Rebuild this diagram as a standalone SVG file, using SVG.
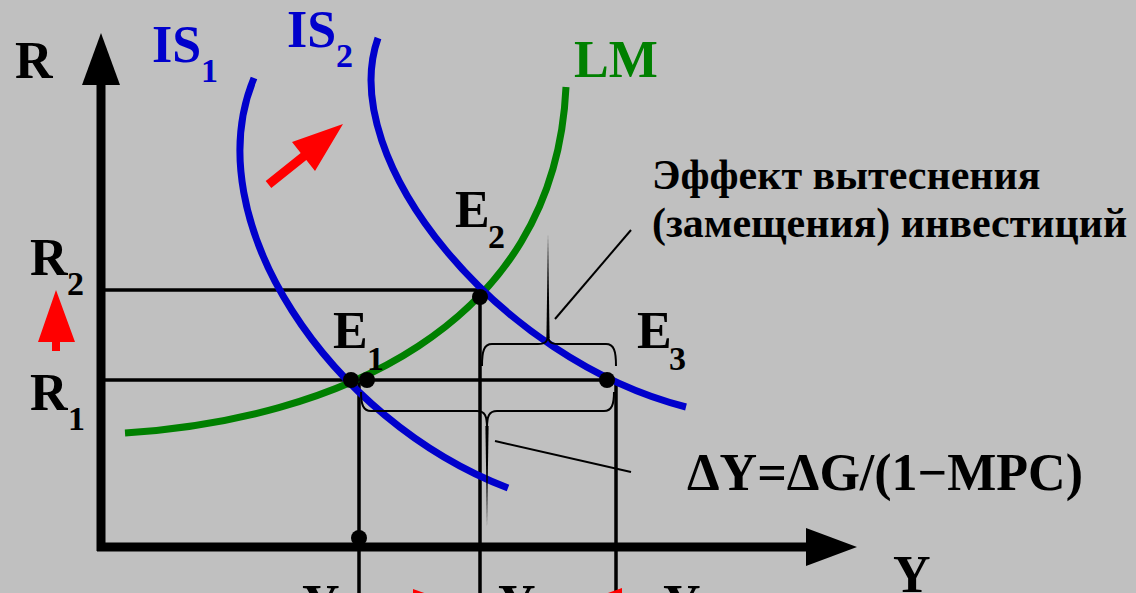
<svg xmlns="http://www.w3.org/2000/svg" width="1136" height="593" viewBox="0 0 1136 593">
<style>
text{font-family:"Liberation Serif","Times New Roman",serif;font-weight:bold;}
.lbl{font-size:52px;fill:#000;}
.sub{font-size:34px;fill:#000;}
.blue{fill:#0000CC;}
.green{fill:#008000;}
.rus{font-size:42px;fill:#000;}
.guide{stroke:#000;stroke-width:3.5;fill:none;}
.brace{stroke:#000;stroke-width:2;fill:none;}
.dot{fill:#000;}
.red{fill:#FF0000;}
</style>
<rect x="0" y="0" width="1136" height="593" fill="#C0C0C0"/>
<g id="axes">
<line x1="101" y1="80" x2="101" y2="551" stroke="#000" stroke-width="9"/>
<polygon points="101,33 120,85 82,85" fill="#000"/>
<line x1="97" y1="547" x2="810" y2="547" stroke="#000" stroke-width="9"/>
<polygon points="857,547 806,528 806,566" fill="#000"/>
<text class="lbl" x="15" y="78">R</text>
<text class="lbl" x="893" y="592">Y</text>
</g>
<g id="guides">
<line class="guide" x1="101" y1="290" x2="480" y2="290"/>
<line class="guide" x1="101" y1="380" x2="612" y2="380"/>
<line class="guide" x1="359" y1="380" x2="359" y2="593" stroke-width="4"/>
<line class="guide" x1="480" y1="290" x2="480" y2="593" stroke-width="4"/>
<line class="guide" x1="616" y1="380" x2="616" y2="593" stroke-width="4"/>
</g>
<g id="LM">
<path d="M125,433 C330,420 555,330 566,87" stroke="#008000" stroke-width="7" fill="none"/>
<text class="lbl green" x="574" y="77">LM</text>
</g>
<g id="IS1">
<path d="M254,78 C195,220 330,420 508,488" stroke="#0000CC" stroke-width="7" fill="none"/>
<text class="lbl blue" x="152" y="62">IS</text>
<text class="sub blue" x="201" y="82">1</text>
</g>
<g id="IS2">
<path d="M378,38 C335,160 500,360 686,407" stroke="#0000CC" stroke-width="7" fill="none"/>
<text class="lbl blue" x="287" y="47">IS</text>
<text class="sub blue" x="336" y="67">2</text>
</g>
<g id="R-labels">
<text class="lbl" x="30" y="275">R</text>
<text class="sub" x="67" y="295">2</text>
<text class="lbl" x="30" y="410">R</text>
<text class="sub" x="68" y="430">1</text>
</g>
<g id="E1">
<circle class="dot" cx="351" cy="380" r="8"/>
<circle class="dot" cx="367" cy="380" r="8"/>
<text class="lbl" x="333" y="348">E</text>
<text class="sub" x="367" y="370">1</text>
</g>
<g id="E2">
<circle class="dot" cx="480" cy="297" r="8"/>
<text class="lbl" x="455" y="227">E</text>
<text class="sub" x="488" y="248">2</text>
</g>
<g id="E3">
<circle class="dot" cx="607" cy="380" r="8"/>
<text class="lbl" x="637" y="348">E</text>
<text class="sub" x="669" y="370">3</text>
</g>
<g id="Y1-point">
<circle class="dot" cx="359" cy="538" r="8"/>
</g>
<g id="bottom-labels">
<text class="lbl" x="302" y="621">Y</text>
<text class="lbl" x="498" y="621">Y</text>
<text class="lbl" x="663" y="621">Y</text>
</g>
<g id="red-arrows">
<polygon class="red" points="56,290 75,342 60,342 60,351 52,351 52,342 38,342"/>
<polygon class="red" points="343,124 292,142 300.7,153 265.7,181 271.3,188 306.3,160 315,171"/>
<polygon class="red" points="413,589 465,607.5 413,626 413,611 385,611 385,604 413,604"/>
<polygon class="red" points="622,588 570,606.5 622,625 622,610 650,610 650,603 622,603"/>
</g>
<g id="connectors">
<path class="brace" d="M482,366 C482,351 484,344 492,344 L538,344 C546,344 548,341 548,334 C548,341 550,344 558,344 L606,344 C614,344 616,351 616,366"/>
<polygon points="548,233 549.6,338 546.4,338" fill="#000"/>
<line x1="555" y1="319" x2="631" y2="230" stroke="#000" stroke-width="2"/>
<path class="brace" d="M361,392 C361,404 363,411 371,411 L477,411 C485,411 487,416 487,428 C487,416 489,411 497,411 L604,411 C612,411 614,404 614,392"/>
<polygon points="487,527 488.6,426 485.4,426" fill="#000"/>
<line x1="495" y1="441" x2="631" y2="472" stroke="#000" stroke-width="2"/>
</g>
<g id="crowding-label">
<text class="rus" x="652" y="189">Эффект вытеснения</text>
<text class="rus" x="652" y="237">(замещения) инвестиций</text>
</g>
<g id="multiplier-label">
<text class="lbl" x="687" y="490" font-size="46">ΔY=ΔG/(1−MPC)</text>
</g>
</svg>
